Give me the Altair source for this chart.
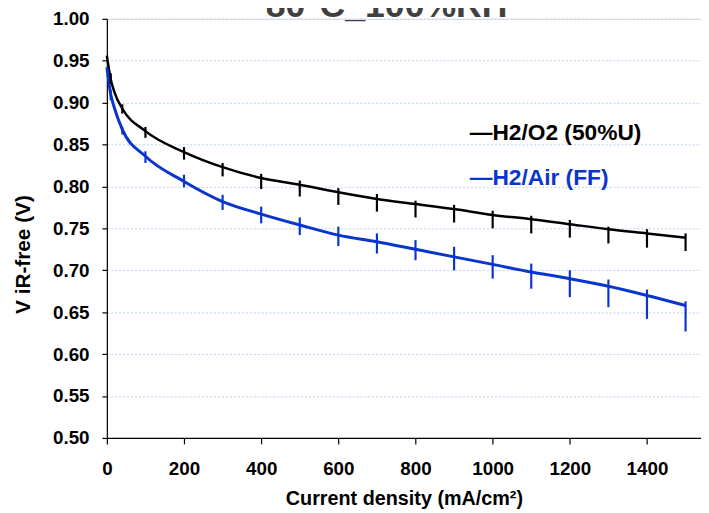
import altair as alt
import pandas as pd

# ---- data ----
x_line = [0, 10, 20, 40, 100, 200, 300, 400, 500, 600, 700, 800, 900, 1000, 1100, 1200, 1300, 1400, 1500]
o2_v = [0.956, 0.928, 0.912, 0.893, 0.866, 0.841, 0.823, 0.810, 0.802, 0.793, 0.785, 0.779, 0.773, 0.766, 0.761, 0.755, 0.749, 0.744, 0.739]
air_v = [0.942, 0.910, 0.893, 0.868, 0.836, 0.806, 0.782, 0.767, 0.754, 0.742, 0.734, 0.725, 0.716, 0.707, 0.698, 0.690, 0.681, 0.670, 0.658]

x_err = [10, 40, 100, 200, 300, 400, 500, 600, 700, 800, 900, 1000, 1100, 1200, 1300, 1400, 1500]
o2_hi = [0.935, 0.898, 0.871, 0.847, 0.828, 0.815, 0.807, 0.798, 0.791, 0.783, 0.778, 0.771, 0.765, 0.760, 0.752, 0.749, 0.744]
o2_lo = [0.922, 0.887, 0.858, 0.832, 0.812, 0.797, 0.788, 0.778, 0.770, 0.763, 0.757, 0.750, 0.744, 0.739, 0.732, 0.727, 0.723]
air_hi = [0.915, 0.871, 0.842, 0.814, 0.790, 0.776, 0.763, 0.752, 0.744, 0.736, 0.728, 0.718, 0.708, 0.700, 0.689, 0.677, 0.663]
air_lo = [0.903, 0.862, 0.828, 0.799, 0.772, 0.756, 0.742, 0.729, 0.720, 0.712, 0.700, 0.690, 0.678, 0.668, 0.656, 0.642, 0.627]

series_names = ["H2/O2 (50%U)", "H2/Air (FF)"]
title_text = "80°C_100%RH"

BLACK = "#000000"
BLUE = "#0a35cc"
FONT = "Liberation Sans"

line_df = pd.DataFrame({"x": x_line, "o2": o2_v, "air": air_v})
err_df = pd.DataFrame({"x": x_err, "o2_hi": o2_hi, "o2_lo": o2_lo, "air_hi": air_hi, "air_lo": air_lo})

xscale = alt.Scale(domain=[0, 1540], nice=False, zero=True)
yscale = alt.Scale(domain=[0.5, 1.0], nice=False, zero=False)

xaxis = alt.Axis(
    values=[0, 200, 400, 600, 800, 1000, 1200, 1400], format="d",
    grid=False, title="Current density (mA/cm²)",
    labelFont=FONT, labelFontSize=19, labelFontWeight="bold", labelColor="#000",
    titleFont=FONT, titleFontSize=20, titleFontWeight="bold", titleColor="#000",
    domainColor="#000", domainWidth=1.2, tickColor="#000", tickSize=6, tickWidth=1.2,
    labelPadding=16, titlePadding=10, labelFlush=False,
)
yaxis = alt.Axis(
    values=[0.5, 0.55, 0.6, 0.65, 0.7, 0.75, 0.8, 0.85, 0.9, 0.95, 1.0], format=".2f",
    grid=True, gridColor="#b9d0ee", gridDash=[2, 2], gridWidth=1,
    title="V iR-free (V)",
    labelFont=FONT, labelFontSize=19, labelFontWeight="bold", labelColor="#000",
    titleFont=FONT, titleFontSize=21, titleFontWeight="bold", titleColor="#000",
    domainColor="#000", domainWidth=1.2, tickColor="#000", tickSize=5, tickWidth=1.2,
    labelPadding=13, titleX=-74, titleY=238, labelFlush=False,
)

base = alt.Chart(line_df)
o2_line = base.mark_line(color=BLACK, strokeWidth=2.5, interpolate="monotone").encode(
    x=alt.X("x:Q", scale=xscale, axis=xaxis), y=alt.Y("o2:Q", scale=yscale, axis=yaxis))
air_line = base.mark_line(color=BLUE, strokeWidth=3, interpolate="monotone").encode(
    x=alt.X("x:Q", scale=xscale), y=alt.Y("air:Q", scale=yscale))

ebase = alt.Chart(err_df)
o2_err = ebase.mark_rule(color=BLACK, strokeWidth=2.2).encode(
    x=alt.X("x:Q", scale=xscale), y=alt.Y("o2_lo:Q", scale=yscale), y2="o2_hi:Q")
air_err = ebase.mark_rule(color=BLUE, strokeWidth=2.2).encode(
    x=alt.X("x:Q", scale=xscale), y=alt.Y("air_lo:Q", scale=yscale), y2="air_hi:Q")

leg1 = alt.Chart(pd.DataFrame({"t": ["—" + series_names[0]]})).mark_text(
    font=FONT, fontSize=23, fontWeight="bold", color=BLACK, align="left", baseline="middle"
).encode(x=alt.value(367), y=alt.value(116), text="t:N")
leg2 = alt.Chart(pd.DataFrame({"t": ["—" + series_names[1]]})).mark_text(
    font=FONT, fontSize=23, fontWeight="bold", color=BLUE, align="left", baseline="middle"
).encode(x=alt.value(367), y=alt.value(161), text="t:N")

title = alt.Chart(pd.DataFrame({"t": [title_text]})).mark_text(
    font=FONT, fontSize=36, fontWeight="bold", color="#404040", align="center", baseline="alphabetic"
).encode(x=alt.value(283), y=alt.value(-2), text="t:N")

chart = alt.layer(o2_line, air_line, o2_err, air_err, leg1, leg2, title).properties(
    width=601, height=424,
    autosize=alt.AutoSizeParams(type="none"),
    padding={"left": 100, "top": 8, "right": 0, "bottom": 73},
).configure_view(stroke=None).configure(background="white")

chart.save("out.html", embed_options={"renderer": "svg", "actions": False})
